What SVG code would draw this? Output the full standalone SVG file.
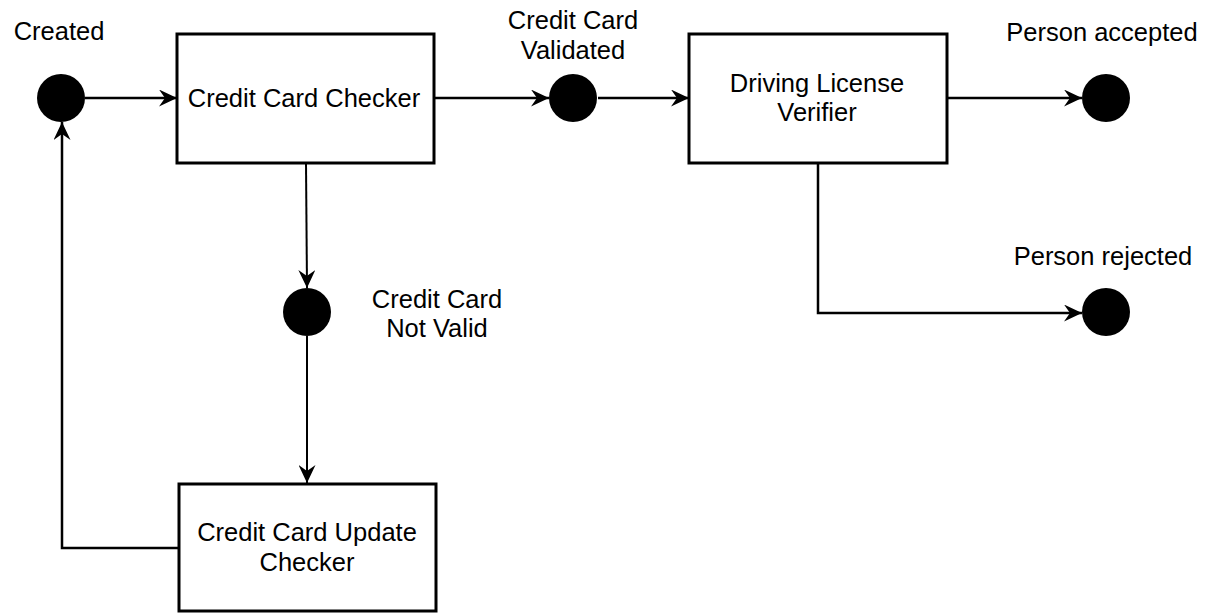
<svg xmlns="http://www.w3.org/2000/svg" width="1205" height="613" viewBox="0 0 1205 613">
  <style>
    .box { fill: #ffffff; stroke: #000000; stroke-width: 3; }
    .state { fill: #000000; }
    .label { font-family: "Liberation Sans", Arial, Helvetica, sans-serif; font-size: 25.5px; fill: #000000; text-anchor: middle; }
    .edge { fill: none; stroke: #000000; stroke-width: 2.5; }
    .edge-thin { fill: none; stroke: #000000; stroke-width: 2; }
  </style>
  <defs>
    <marker id="arrow" viewBox="0 0 18 17" refX="18" refY="8.5" markerWidth="18" markerHeight="17" markerUnits="userSpaceOnUse" orient="auto">
      <path d="M0,0 L18,8.5 L0,17 L6,8.5 Z" fill="#000000"/>
    </marker>
  </defs>
  <rect width="1205" height="613" fill="#ffffff"/>

  <!-- connectors -->
  <g id="connectors">
    <path class="edge" d="M85,98 L177,98" marker-end="url(#arrow)"/>
    <path class="edge" d="M434,98 L549,98" marker-end="url(#arrow)"/>
    <path class="edge" d="M598,98 L689,98" marker-end="url(#arrow)"/>
    <path class="edge" d="M947,98 L1082,98" marker-end="url(#arrow)"/>
    <path class="edge" d="M818,163 L818,313 L1082,313" marker-end="url(#arrow)"/>
    <path class="edge-thin" d="M306,163 L307,288" marker-end="url(#arrow)"/>
    <path class="edge-thin" d="M307,336 L307,483" marker-end="url(#arrow)"/>
    <path class="edge" d="M179,548 L62,548 L62,122" marker-end="url(#arrow)"/>
  </g>

  <!-- start state -->
  <g id="created">
    <circle class="state" cx="61" cy="98" r="24"/>
    <text class="label" x="59" y="40">Created</text>
  </g>

  <g id="credit-card-checker">
    <rect class="box" x="177" y="34" width="257" height="129"/>
    <text class="label" x="304" y="107">Credit Card Checker</text>
  </g>

  <g id="credit-card-validated">
    <circle class="state" cx="573" cy="98" r="24"/>
    <text class="label" x="573" y="29">Credit Card</text>
    <text class="label" x="573" y="59">Validated</text>
  </g>

  <g id="driving-license-verifier">
    <rect class="box" x="689" y="34" width="258" height="129"/>
    <text class="label" x="817" y="92">Driving License</text>
    <text class="label" x="817" y="121">Verifier</text>
  </g>

  <g id="person-accepted">
    <circle class="state" cx="1106" cy="98" r="24"/>
    <text class="label" x="1102" y="41">Person accepted</text>
  </g>

  <g id="person-rejected">
    <circle class="state" cx="1106" cy="312" r="24"/>
    <text class="label" x="1103" y="265">Person rejected</text>
  </g>

  <g id="credit-card-not-valid">
    <circle class="state" cx="307" cy="312" r="24"/>
    <text class="label" x="437" y="308">Credit Card</text>
    <text class="label" x="437" y="337">Not Valid</text>
  </g>

  <g id="credit-card-update-checker">
    <rect class="box" x="179" y="484" width="257" height="127"/>
    <text class="label" x="307" y="541">Credit Card Update</text>
    <text class="label" x="307" y="571">Checker</text>
  </g>
</svg>
